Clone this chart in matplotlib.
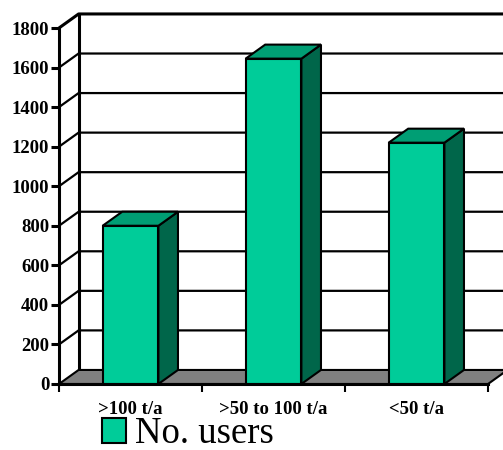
import matplotlib
matplotlib.use("Agg")
import matplotlib.pyplot as plt
from matplotlib.patches import Polygon, Rectangle, Patch

plt.rcParams['font.family'] = ['Liberation Serif', 'DejaVu Serif']

# data
categories = ['>100 t/a', '>50 to 100 t/a', '<50 t/a']
users = [800, 1645, 1220]
yticks = [0, 200, 400, 600, 800, 1000, 1200, 1400, 1600, 1800]
series_name = 'No. users'

# colours of the 3d faces
c_front = '#00CC99'
c_top = '#009E74'
c_side = '#00664A'
c_floor = '#808080'

# depth of the fake 3d box (x in category units, y in value units)
dx = 0.137
dy = 71
bar_w = 0.39
ymax = 1800
x0, x1 = -0.5, len(categories) - 0.5

fig = plt.figure(figsize=(5.03, 4.5), dpi=100)
ax = fig.add_axes([59 / 503, 66 / 450, 444 / 503, 371 / 450])
ax.set_xlim(x0, x0 + 444 / 143)
ax.set_ylim(0, 371 / (356 / 1800))

# back wall gridlines + diagonals on the side wall
for v in yticks[1:]:
    ax.plot([x0, x0 + dx, ax.get_xlim()[1] + 1], [v, v + dy, v + dy],
            color='black', lw=1.6 if v < ymax else 2.2, zorder=1,
            clip_on=False, solid_capstyle='butt')
ax.plot([x0 + dx, x0 + dx], [dy, ymax + dy], color='black', lw=2.2, zorder=1)

# floor
floor = Polygon([(x0, 0), (x1, 0), (x1 + dx, dy), (ax.get_xlim()[1] + 1, dy),
                 (x0 + dx, dy)], closed=True, facecolor=c_floor,
                edgecolor='black', lw=1.5, zorder=2, clip_on=True)
ax.add_patch(floor)

# bars
for i, v in enumerate(users):
    l = i - bar_w / 2
    r = i + bar_w / 2
    side = Polygon([(r, 0), (r + dx, dy), (r + dx, v + dy), (r, v)],
                   facecolor=c_side, edgecolor='black', lw=1.5, zorder=3)
    top = Polygon([(l, v), (r, v), (r + dx, v + dy), (l + dx, v + dy)],
                  facecolor=c_top, edgecolor='black', lw=1.5, zorder=3)
    front = Rectangle((l, 0), bar_w, v, facecolor=c_front,
                      edgecolor='black', lw=1.5, zorder=4)
    ax.add_patch(side)
    ax.add_patch(top)
    ax.add_patch(front)

# axes
for s in ['top', 'right']:
    ax.spines[s].set_visible(False)
ax.spines['left'].set_linewidth(2.2)
ax.spines['bottom'].set_linewidth(2.2)
ax.spines['left'].set_bounds(0, ymax)
ax.spines['bottom'].set_bounds(x0, x1)
ax.spines['left'].set_zorder(5)
ax.spines['bottom'].set_zorder(5)

ax.set_yticks(yticks)
ax.set_yticklabels([str(t) for t in yticks], fontsize=13.5, fontweight='bold')
ax.tick_params(axis='y', direction='out', length=6, width=2.2, pad=1)

ax.set_xticks([x0 + k for k in range(len(categories) + 1)])
ax.set_xticklabels([])
ax.set_xticks(range(len(categories)), minor=True)
ax.set_xticklabels(categories, minor=True, fontsize=13.5, fontweight='bold')
ax.tick_params(axis='x', which='major', direction='out', length=6, width=1.5)
ax.tick_params(axis='x', which='minor', length=0, pad=12)

fig.legend(handles=[Patch(facecolor=c_front, edgecolor='black', lw=1.5,
                          label=series_name)],
           loc='center left', bbox_to_anchor=(102 / 503, 16 / 450),
           frameon=False, fontsize=26.5, handlelength=0.65, handleheight=0.65,
           handletextpad=0.25, borderpad=0, borderaxespad=0)

fig.savefig('out.png', dpi=100)
